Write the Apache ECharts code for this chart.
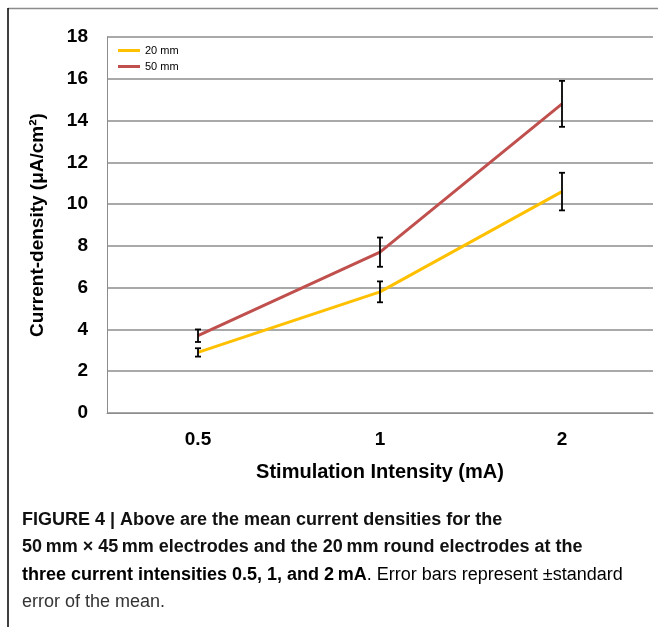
<!DOCTYPE html>
<html>
<head>
<meta charset="utf-8">
<script src="https://cdn.jsdelivr.net/npm/echarts@6/dist/echarts.min.js"></script>
<style>
  html, body { margin: 0; padding: 0; background: #fff; }
  #chart { width: 658px; height: 627px; }
</style>
</head>
<body>
<div id="chart"></div>
<script>
// 数据
const categories = ['0.5', '1', '2'];
const mean20 = [2.9, 5.8, 10.6];
const err20 = [0.2, 0.5, 0.9];
const mean50 = [3.7, 7.7, 14.8];
const err50 = [0.3, 0.7, 1.1];
const seriesNames = ['20 mm', '50 mm'];
const colors = ['#FFC000', '#C0504D'];

const FONT = "'Liberation Sans', Arial, sans-serif";

const chart = echarts.init(document.getElementById('chart'));

// 误差线
const errorItem = (params, api) => {
    const idx = api.value(0);
    const top = api.coord([idx, api.value(1) + api.value(2)]);
    const bottom = api.coord([idx, api.value(1) - api.value(2)]);
    const w = 3;
    const style = { stroke: '#000', lineWidth: 1.8 };
    return {
        type: 'group',
        children: [
            { type: 'line', shape: { x1: top[0], y1: top[1], x2: bottom[0], y2: bottom[1] }, style },
            { type: 'line', shape: { x1: top[0] - w, y1: top[1], x2: top[0] + w, y2: top[1] }, style },
            { type: 'line', shape: { x1: bottom[0] - w, y1: bottom[1], x2: bottom[0] + w, y2: bottom[1] }, style }
        ]
    };
};

const option = {
    animation: false,
    backgroundColor: '#fff',
    grid: { left: 107, right: 5, top: 37, bottom: 214 },
    legend: {
        data: seriesNames,
        orient: 'vertical',
        left: 113,
        top: 40,
        icon: 'rect',
        itemWidth: 22,
        itemHeight: 3,
        itemGap: 5,
        textStyle: { fontFamily: FONT, fontSize: 11, color: '#000' }
    },
    xAxis: {
        type: 'category',
        data: categories,
        name: 'Stimulation Intensity (mA)',
        nameLocation: 'middle',
        nameGap: 49,
        nameTextStyle: { fontFamily: FONT, fontSize: 20, fontWeight: 'bold', color: '#000' },
        axisLine: { lineStyle: { color: '#8c8c8c', width: 1 } },
        axisTick: { show: false },
        axisLabel: { fontFamily: FONT, fontSize: 19, fontWeight: 'bold', color: '#000', margin: 17 }
    },
    yAxis: {
        type: 'value',
        min: 0,
        max: 18,
        interval: 2,
        name: 'Current-density (μA/cm²)',
        nameLocation: 'middle',
        nameGap: 60,
        nameTextStyle: { fontFamily: FONT, fontSize: 19, fontWeight: 'bold', color: '#000' },
        axisLine: { show: true, lineStyle: { color: '#8c8c8c', width: 1 } },
        axisTick: { show: false },
        axisLabel: { fontFamily: FONT, fontSize: 19, fontWeight: 'bold', color: '#000', margin: 19 },
        splitLine: { lineStyle: { color: '#8c8c8c', width: 1.5 } }
    },
    series: [
        {
            name: seriesNames[0],
            type: 'line',
            data: mean20,
            symbol: 'none',
            color: colors[0],
            lineStyle: { width: 3, color: colors[0] }
        },
        {
            name: seriesNames[1],
            type: 'line',
            data: mean50,
            symbol: 'none',
            color: colors[1],
            lineStyle: { width: 3, color: colors[1] }
        },
        {
            type: 'custom',
            renderItem: errorItem,
            data: categories.map((c, i) => [i, mean20[i], err20[i]]),
            z: 5
        },
        {
            type: 'custom',
            renderItem: errorItem,
            data: categories.map((c, i) => [i, mean50[i], err50[i]]),
            z: 5
        }
    ],
    graphic: [
        // 外框
        { type: 'line', shape: { x1: 8, y1: 8.5, x2: 658, y2: 8.5 }, style: { stroke: '#8c8c8c', lineWidth: 1.5 } },
        { type: 'line', shape: { x1: 8, y1: 8, x2: 8, y2: 627 }, style: { stroke: '#000', lineWidth: 1.5 } },
        // 图注
        {
            type: 'text', left: 22, top: 511,
            style: {
                text: 'FIGURE 4 | Above are the mean current densities for the',
                font: "bold 18px " + FONT, fill: '#111'
            }
        },
        {
            type: 'text', left: 22, top: 538,
            style: {
                text: '50\u2009mm × 45\u2009mm electrodes and the 20\u2009mm round electrodes at the',
                font: "bold 18px " + FONT, fill: '#111'
            }
        },
        {
            type: 'text', left: 22, top: 566,
            style: {
                text: '{b|three current intensities 0.5, 1, and 2\u2009mA}{n|. Error bars represent ±standard}',
                rich: {
                    b: { fontFamily: FONT, fontSize: 18, fontWeight: 'bold', color: '#111' },
                    n: { fontFamily: FONT, fontSize: 18, color: '#333' }
                }
            }
        },
        {
            type: 'text', left: 22, top: 593,
            style: {
                text: 'error of the mean.',
                font: "18px " + FONT, fill: '#333'
            }
        }
    ]
};

chart.setOption(option);
</script>
</body>
</html>
